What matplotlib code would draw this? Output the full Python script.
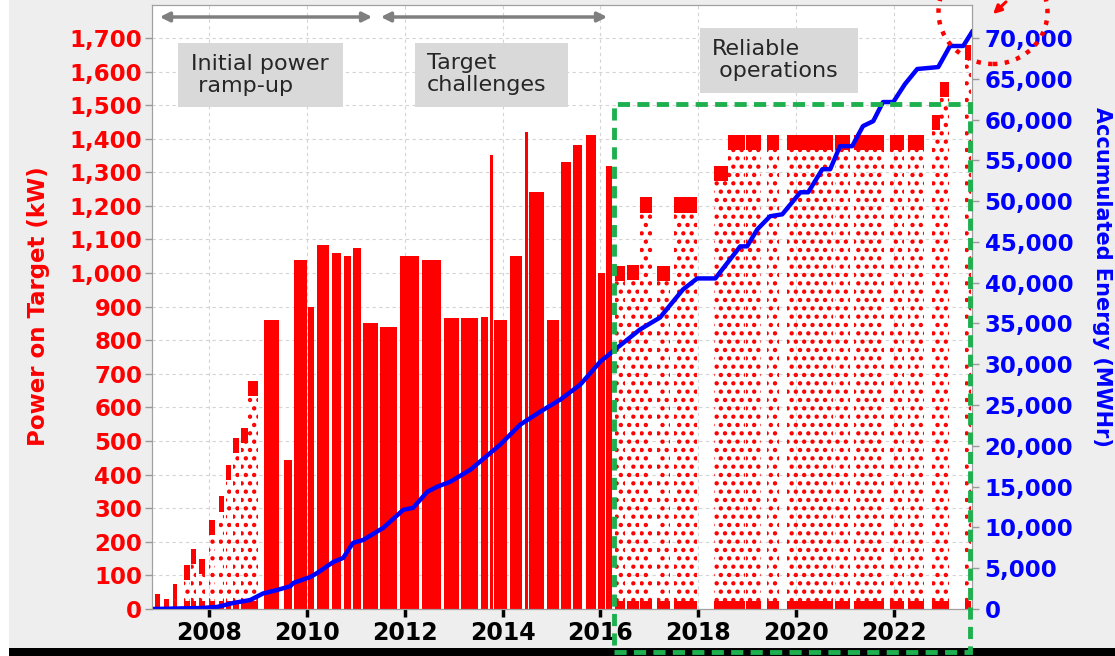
import matplotlib
matplotlib.use('Agg')
import matplotlib.pyplot as plt
from matplotlib.patches import Rectangle, Ellipse, FancyArrowPatch
from matplotlib.ticker import StrMethodFormatter

plt.rcParams['font.family'] = ['DejaVu Sans']
plt.rcParams['hatch.linewidth'] = 1.9

W, H = 1115, 656

# 运行时段：起止年份和靶上功率峰值 (kW)，dense 表示该时段数据点密集
run_start = [2006.90, 2007.08, 2007.25, 2007.48, 2007.62, 2007.80, 2008.00, 2008.20,
             2008.35, 2008.48, 2008.64, 2008.80, 2009.12, 2009.52, 2009.74, 2010.02,
             2010.20, 2010.52, 2010.75, 2010.95, 2011.15, 2011.50, 2011.90, 2012.35,
             2012.80, 2013.15, 2013.55, 2013.74, 2013.82, 2014.15, 2014.45, 2014.55,
             2014.90, 2015.20, 2015.45, 2015.70, 2015.95, 2016.12, 2016.30, 2016.55,
             2016.80, 2017.15, 2017.50, 2018.33, 2018.62, 2018.97, 2019.40, 2019.82,
             2020.80, 2021.18, 2021.93, 2022.30, 2022.78, 2022.95, 2023.45]
run_end = [2006.99, 2007.18, 2007.35, 2007.60, 2007.72, 2007.92, 2008.12, 2008.30,
           2008.45, 2008.60, 2008.80, 2009.00, 2009.42, 2009.70, 2010.00, 2010.15,
           2010.45, 2010.70, 2010.90, 2011.10, 2011.45, 2011.85, 2012.30, 2012.75,
           2013.10, 2013.50, 2013.70, 2013.80, 2014.10, 2014.40, 2014.52, 2014.85,
           2015.15, 2015.40, 2015.62, 2015.92, 2016.10, 2016.24, 2016.50, 2016.78,
           2017.05, 2017.42, 2017.98, 2018.62, 2018.95, 2019.28, 2019.65, 2020.76,
           2021.10, 2021.80, 2022.20, 2022.62, 2022.95, 2023.12, 2023.58]
run_peak = [45, 30, 75, 130, 180, 150, 265, 335,
            430, 510, 540, 680, 860, 445, 1040, 900,
            1085, 1060, 1050, 1075, 850, 840, 1050, 1040,
            865, 865, 870, 1350, 860, 1050, 1420, 1240,
            860, 1330, 1380, 1410, 1000, 1320, 1020, 1025,
            1225, 1020, 1225, 1318, 1410, 1410, 1410, 1410,
            1410, 1410, 1410, 1410, 1470, 1570, 1680]
run_dense = [False] * 12 + [True] * 26 + [False] * 17

# 累计能量 (MWHr)
energy_year = [2006.83, 2007.82, 2008.16, 2008.49, 2008.84, 2009.10, 2009.39, 2009.66,
               2009.72, 2010.07, 2010.21, 2010.54, 2010.74, 2010.94, 2011.15, 2011.56,
               2011.97, 2012.17, 2012.46, 2012.66, 2012.93, 2013.34, 2013.95, 2014.36,
               2014.77, 2015.18, 2015.59, 2016.00, 2016.30, 2016.81, 2017.22, 2017.69,
               2017.98, 2018.35, 2018.86, 2019.00, 2019.21, 2019.47, 2019.72, 2020.09,
               2020.25, 2020.54, 2020.70, 2020.90, 2021.15, 2021.37, 2021.58, 2021.78,
               2021.99, 2022.23, 2022.48, 2022.91, 2023.15, 2023.42, 2023.60]
energy_mwh = [0, 120, 250, 740, 1100, 1900, 2330, 2800,
              3190, 3930, 4420, 5770, 6260, 8100, 8470, 9950,
              12160, 12400, 14370, 14980, 15600, 17070, 20140, 22600,
              24190, 25670, 27510, 30330, 31810, 34260, 35730, 39170,
              40520, 40520, 44450, 44450, 46540, 48140, 48380, 51080,
              51080, 53910, 53910, 56730, 56730, 59190, 59800, 62140,
              62140, 64350, 66190, 66430, 69010, 69010, 70730]

year_ticks = [2008, 2010, 2012, 2014, 2016, 2018, 2020, 2022]
power_ticks = list(range(0, 1701, 100))
energy_ticks = list(range(0, 70001, 5000))

phase_names = ['Initial power\n ramp-up', 'Target\nchallenges', 'Reliable\n operations']


def fx(px):
    return px / W


def fy(py):
    return 1 - py / H


fig = plt.figure(figsize=(W / 100, H / 100), dpi=100, facecolor='#eeeeee')
ax = fig.add_axes([fx(152), fy(609), fx(972) - fx(152), fy(5) - fy(609)])
ax.set_xlim(2006.83, 2023.60)
ax.set_ylim(0, 1798)
ax.set_axisbelow(True)
ax.grid(True, color='#d4d4d4', linestyle=(0, (3, 3)), linewidth=0.8)

# 靶上功率散点区域
for s, e, p, d in zip(run_start, run_end, run_peak, run_dense):
    w = e - s
    if d:
        ax.bar(s, p, width=w, align='edge', color='red', linewidth=0)
    else:
        ax.bar(s, p, width=w, align='edge', facecolor='none', edgecolor='red',
               hatch='..', linewidth=0)
        ax.bar(s, min(45, p), bottom=p - min(45, p), width=w, align='edge',
               color='red', linewidth=0)
        ax.bar(s, min(25, p), width=w, align='edge', color='red', linewidth=0)

ax.set_xticks(year_ticks)
ax.set_xticklabels([str(y) for y in year_ticks])
ax.set_yticks(power_ticks)
ax.yaxis.set_major_formatter(StrMethodFormatter('{x:,.0f}'))
ax.tick_params(axis='x', length=6, width=2.5, color='black', labelsize=17, pad=3)
ax.tick_params(axis='y', length=5, width=1, color='#999999', labelcolor='red',
               labelsize=16.5, pad=2)

ax2 = ax.twinx()
ax2.plot(energy_year, energy_mwh, color='#0000ff', linewidth=3.2)
ax2.set_ylim(0, 1798 * 70000 / 1700)
ax2.set_yticks(energy_ticks)
ax2.yaxis.set_major_formatter(StrMethodFormatter('{x:,.0f}'))
ax2.tick_params(axis='y', length=5, width=1, color='#999999', labelcolor='#0000ff',
                labelsize=16.5, pad=4)

for a in (ax, ax2):
    for sp in a.spines.values():
        sp.set_color('#a0a0a0')
    for lbl in a.get_xticklabels() + a.get_yticklabels():
        lbl.set_fontweight('bold')

fig.text(fx(39), fy(306), 'Power on Target (kW)', rotation=90, ha='center',
         va='center', color='red', fontsize=16.5, fontweight='bold')
fig.text(fx(1102), fy(277), 'Accumulated Energy (MWHr)', rotation=270, ha='center',
         va='center', color='#0000ff', fontsize=15, fontweight='bold')

# 边框和底部黑条
fig.add_artist(Rectangle((0, 0), fx(9), 1, transform=fig.transFigure,
                         facecolor='white', edgecolor='none', zorder=0))
fig.add_artist(Rectangle((fx(9), 0), 1, 8 / H, transform=fig.transFigure,
                         facecolor='black', edgecolor='none', zorder=3))

# 阶段说明框
boxes = [(178, 43, 343, 107), (415, 43, 568, 107), (700, 28, 858, 93)]
text_pos = [(191, 75), (427, 74), (712, 60)]
for (x0, y0, x1, y1), (tx, ty), name in zip(boxes, text_pos, phase_names):
    fig.add_artist(Rectangle((fx(x0), fy(y1)), fx(x1) - fx(x0), fy(y0) - fy(y1),
                             transform=fig.transFigure, facecolor='#d9d9d9',
                             edgecolor='none', zorder=4))
    fig.text(fx(tx), fy(ty), name, ha='left', va='center', fontsize=16,
             color='#262626', linespacing=1.15, zorder=5)

# 阶段范围箭头
for xa, xb in [(157, 375), (378, 610)]:
    fig.add_artist(FancyArrowPatch((fx(xa), fy(17)), (fx(xb), fy(17)),
                                   transform=fig.transFigure, arrowstyle='<|-|>',
                                   mutation_scale=14, color='#7f7f7f', lw=2.5, zorder=5))

# 可靠运行区域
fig.add_artist(Rectangle((fx(614), fy(652)), fx(970) - fx(614), fy(104) - fy(652),
                         transform=fig.transFigure, fill=False, edgecolor='#1eb04f',
                         lw=3.5, linestyle=(0, (2.5, 1.5)), zorder=6))

# 右上角标记
fig.add_artist(Ellipse((fx(993), fy(12)), fx(109), 104 / H, transform=fig.transFigure,
                       fill=False, edgecolor='red', lw=3.2, linestyle=':', zorder=6))
fig.add_artist(FancyArrowPatch((fx(1008), fy(0)), (fx(991), fy(16)),
                               transform=fig.transFigure, arrowstyle='-|>',
                               mutation_scale=12, color='red', lw=2.2, zorder=6))

fig.savefig('out.png', dpi=100, facecolor=fig.get_facecolor())
